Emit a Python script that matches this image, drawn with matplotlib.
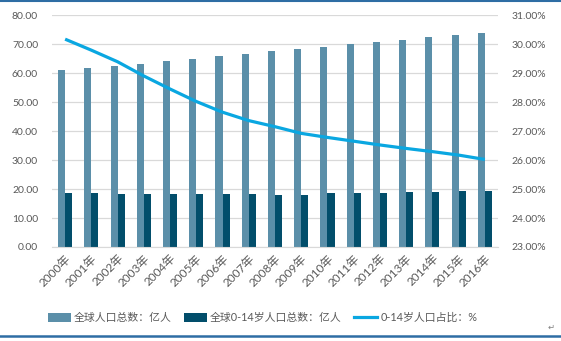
import matplotlib
matplotlib.use("Agg")
import matplotlib.pyplot as plt
import numpy as np
from matplotlib.patches import Patch
from matplotlib.lines import Line2D
from matplotlib.ticker import FuncFormatter

plt.rcParams['font.family'] = ['Lato', 'Noto Sans CJK SC', 'DejaVu Sans']

years = ['2000年', '2001年', '2002年', '2003年', '2004年', '2005年', '2006年', '2007年', '2008年',
         '2009年', '2010年', '2011年', '2012年', '2013年', '2014年', '2015年', '2016年']
total_pop = [61.0, 61.8, 62.4, 63.2, 64.2, 65.0, 65.8, 66.6, 67.6,
             68.3, 68.9, 70.0, 70.8, 71.5, 72.5, 73.2, 73.9]
child_pop = [18.5, 18.5, 18.2, 18.2, 18.2, 18.2, 18.2, 18.2, 18.1,
             18.1, 18.5, 18.5, 18.5, 18.9, 18.9, 19.3, 19.3]
child_share = [30.17, 29.79, 29.39, 28.90, 28.45, 28.02, 27.65, 27.36, 27.15,
               26.92, 26.78, 26.65, 26.52, 26.40, 26.29, 26.17, 26.02]

C_TOTAL = '#5B8FA9'
C_CHILD = '#024E6B'
C_SHARE = '#0AA7E1'
C_TEXT = '#595959'

fig = plt.figure(figsize=(5.61, 3.41), dpi=100)
ax = fig.add_axes([0.0927, 0.2757, 0.795, 0.680])
ax2 = ax.twinx()

x = np.arange(len(years))
w = 0.27
ax.bar(x - w / 2, total_pop, width=w, color=C_TOTAL, zorder=2)
ax.bar(x + w / 2, child_pop, width=w, color=C_CHILD, zorder=2)
ax2.plot(x, child_share, color=C_SHARE, lw=2.3, solid_joinstyle='round',
         solid_capstyle='butt', zorder=3)

ax.set_xlim(-0.5, len(years) - 0.5)
ax.set_ylim(0, 80)
ax.set_yticks(np.arange(0, 81, 10))
ax.yaxis.set_major_formatter(FuncFormatter(lambda v, p: f'{v:.2f}'))
ax2.set_ylim(23, 31)
ax2.set_yticks(np.arange(23, 32, 1))
ax2.yaxis.set_major_formatter(FuncFormatter(lambda v, p: f'{v:.2f}%'))

ax.grid(axis='y', color='#D9D9D9', lw=0.9, zorder=0)
ax.set_axisbelow(True)
for a in (ax, ax2):
    for s in a.spines.values():
        s.set_visible(False)
    a.tick_params(length=0, labelsize=7.5, colors=C_TEXT)
ax.spines['bottom'].set_visible(True)
ax.spines['bottom'].set_color('#D9D9D9')
ax.tick_params(axis='y', pad=10)
ax2.tick_params(axis='y', pad=10)

ax.set_xticks(x)
ax.set_xticklabels(years, rotation=45, ha='right', rotation_mode='anchor', fontsize=8.5)
ax.tick_params(axis='x', pad=4)

handles = [Patch(facecolor=C_TOTAL), Patch(facecolor=C_CHILD),
           Line2D([], [], color=C_SHARE, lw=2.3)]
labels = ['全球人口总数：亿人', '全球0-14岁人口总数：亿人', '0-14岁人口占比：%']
fig.legend(handles, labels, loc='center', bbox_to_anchor=(0.468, 0.068), ncol=3,
           frameon=False, fontsize=7.8, handlelength=2.1, handleheight=0.9,
           handletextpad=0.3, columnspacing=1.15, labelcolor=C_TEXT)

# blue frame lines at top and bottom
fig.add_artist(Line2D([0, 1], [0.997, 0.997], color='#2E6DA4', lw=1.5))
fig.add_artist(Line2D([0, 1], [0.0145, 0.0145], color='#2E6DA4', lw=1.8))
fig.text(0.982, 0.04, '↵', fontsize=6, color='#808080', ha='center', va='center')

fig.savefig('out.png', dpi=100)
